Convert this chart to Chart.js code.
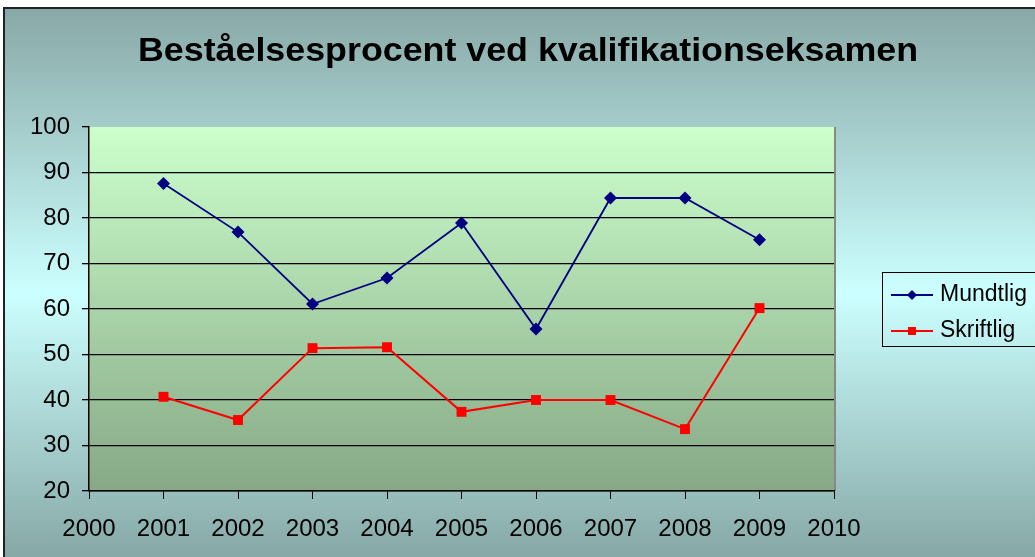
<!DOCTYPE html>
<html>
<head>
<meta charset="utf-8">
<script src="https://cdn.jsdelivr.net/npm/chart.js@4.4.1/dist/chart.umd.min.js"></script>
<style>
  html, body { margin: 0; padding: 0; background: #fff; }
  #wrap { width: 1035px; height: 557px; position: relative; }
</style>
</head>
<body>
<div id="wrap"><canvas id="chart" width="1035" height="557"></canvas></div>
<script>
const chartTitle = "Beståelsesprocent ved kvalifikationseksamen";
const years = [2001, 2002, 2003, 2004, 2005, 2006, 2007, 2008, 2009];
const seriesNames = ["Mundtlig", "Skriftlig"];
const mundtlig = [87.6, 76.9, 61.1, 66.8, 78.9, 55.6, 84.4, 84.4, 75.2];
const skriftlig = [40.7, 35.6, 51.4, 51.6, 37.4, 40.0, 40.0, 33.6, 60.2];
const xRange = [2000, 2010];
const yRange = [20, 100];

const FONT = "'Liberation Sans', Arial, sans-serif";

// background of the whole frame + plot area
const bgPlugin = {
    id: "bg",
    beforeDraw(chart) {
        const ctx = chart.ctx;
        const W = chart.width, H = chart.height;
        ctx.save();
        const g = ctx.createLinearGradient(0, 8, 0, H);
        g.addColorStop(0, "#88a8a6");
        g.addColorStop(0.52, "#ccffff");
        g.addColorStop(1, "#86a8a6");
        ctx.fillStyle = g;
        ctx.fillRect(4, 8, W - 4, H - 8);
        ctx.strokeStyle = "#222";
        ctx.lineWidth = 2;
        ctx.beginPath();
        ctx.moveTo(4, H);
        ctx.lineTo(4, 8);
        ctx.lineTo(W, 8);
        ctx.stroke();

        const a = chart.chartArea;
        const pg = ctx.createLinearGradient(0, a.top, 0, a.bottom);
        pg.addColorStop(0, "#ccffcc");
        pg.addColorStop(1, "#86a886");
        ctx.fillStyle = pg;
        ctx.fillRect(a.left, a.top, a.right - a.left, a.bottom - a.top);
        ctx.strokeStyle = "#888";
        ctx.lineWidth = 2;
        ctx.beginPath();
        ctx.moveTo(a.right + 1, a.top);
        ctx.lineTo(a.right + 1, a.bottom);
        ctx.stroke();

        // title, centred over the frame and stretched a little like the original
        ctx.font = "bold 33px " + FONT;
        ctx.fillStyle = "#000";
        ctx.textBaseline = "alphabetic";
        const tw = ctx.measureText(chartTitle).width;
        const sx = 780 / tw;
        ctx.translate(528, 61);
        ctx.scale(sx, 1);
        ctx.textAlign = "center";
        ctx.fillText(chartTitle, 0, 0);
        ctx.restore();
    }
};

// legend box at the right
const legendPlugin = {
    id: "boxLegend",
    afterDraw(chart) {
        const ctx = chart.ctx;
        const x = 882, y = 272, w = 160, h = 74;
        ctx.save();
        ctx.strokeStyle = "#000";
        ctx.lineWidth = 1;
        ctx.strokeRect(x + 0.5, y + 0.5, w, h);
        chart.data.datasets.forEach((ds, i) => {
            const cy = y + 23 + i * 36;
            ctx.strokeStyle = ds.borderColor;
            ctx.lineWidth = ds.borderWidth;
            ctx.beginPath();
            ctx.moveTo(891, cy);
            ctx.lineTo(933, cy);
            ctx.stroke();
            ctx.fillStyle = ds.pointBackgroundColor;
            ctx.beginPath();
            if (ds.pointStyle === "rectRot") {
                ctx.moveTo(912, cy - 5);
                ctx.lineTo(917, cy);
                ctx.lineTo(912, cy + 5);
                ctx.lineTo(907, cy);
                ctx.closePath();
            } else {
                ctx.rect(908, cy - 4, 8, 8);
            }
            ctx.fill();
            ctx.fillStyle = "#000";
            ctx.font = "23px " + FONT;
            ctx.textBaseline = "middle";
            ctx.fillText(ds.label, 940, cy);
        });
        ctx.restore();
    }
};

const toPoints = vals => vals.map((v, i) => ({ x: years[i], y: v }));

new Chart(document.getElementById("chart"), {
    type: "line",
    data: {
        datasets: [{
            label: seriesNames[0],
            data: toPoints(mundtlig),
            borderColor: "#000080",
            backgroundColor: "#000080",
            pointBackgroundColor: "#000080",
            pointBorderColor: "#000080",
            borderWidth: 1.8,
            pointStyle: "rectRot",
            pointRadius: 6.5,
            pointBorderWidth: 0,
            tension: 0
        }, {
            label: seriesNames[1],
            data: toPoints(skriftlig),
            borderColor: "#ff0000",
            backgroundColor: "#ff0000",
            pointBackgroundColor: "#ff0000",
            pointBorderColor: "#ff0000",
            borderWidth: 2,
            pointStyle: "rect",
            pointRadius: 7,
            pointBorderWidth: 0,
            tension: 0
        }]
    },
    options: {
        responsive: false,
        animation: false,
        layout: { padding: { left: 0, right: 201, top: 127, bottom: 0 } },
        plugins: {
            legend: { display: false },
            tooltip: { enabled: false },
            title: { display: false }
        },
        scales: {
            x: {
                type: "linear",
                min: xRange[0],
                max: xRange[1],
                afterFit: s => { s.height = 66; },
                ticks: {
                    stepSize: 1,
                    color: "#000",
                    padding: 16,
                    font: { family: FONT, size: 24 },
                    callback: v => String(v),
                    maxRotation: 0
                },
                grid: { drawOnChartArea: false, drawTicks: true, tickLength: 8, color: "#000" },
                border: { display: true, color: "#000", width: 1.5 }
            },
            y: {
                min: yRange[0],
                max: yRange[1],
                afterFit: s => { s.width = 89; },
                ticks: {
                    stepSize: 10,
                    color: "#000",
                    padding: 12,
                    font: { family: FONT, size: 24 }
                },
                grid: {
                    color: c => c.tick && c.tick.value === yRange[1] ? "rgba(0,0,0,0)" : "#000",
                    lineWidth: 1.3,
                    drawTicks: true,
                    tickLength: 7,
                    tickColor: "#000"
                },
                border: { display: true, color: "#000", width: 1.5 }
            }
        }
    },
    plugins: [bgPlugin, legendPlugin]
});
</script>
</body>
</html>
